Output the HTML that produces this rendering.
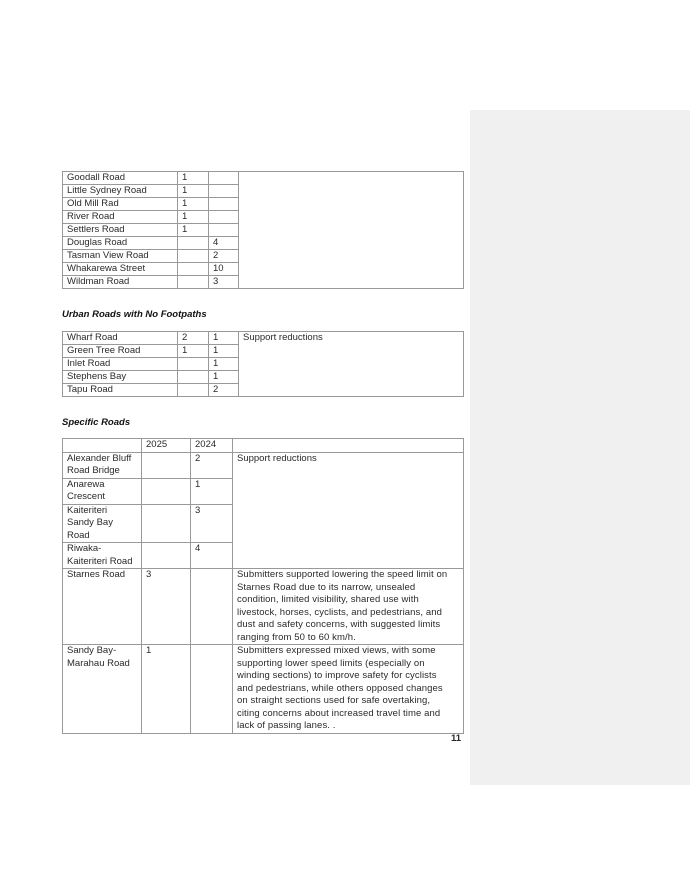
<!DOCTYPE html>
<html><head><style>
body{margin:0;width:690px;height:894px;background:#fff;position:relative;font-family:"Liberation Sans",sans-serif;color:#2a2a2a;overflow:hidden}
.panel{position:absolute;left:470px;top:110px;width:220px;height:675px;background:#f0f0f0}
table{position:absolute;border-collapse:collapse;font-size:9.5px;table-layout:fixed}
td{border:1px solid #999;padding:0 4px;vertical-align:top;line-height:12.5px;white-space:nowrap;overflow:hidden}
.t1 tr{height:12px}
.t1 td{line-height:12px;padding-top:0}
.h{position:absolute;font-size:9.5px;font-weight:bold;font-style:italic;color:#111}
.w{letter-spacing:0.1px}
</style></head><body>
<div class="panel"></div>
<table class="t1" style="left:62px;top:171px;width:402px">
<colgroup><col style="width:115px"><col style="width:31px"><col style="width:30px"><col></colgroup>
<tr><td>Goodall Road</td><td>1</td><td></td><td rowspan="9"></td></tr>
<tr><td>Little Sydney Road</td><td>1</td><td></td></tr>
<tr><td>Old Mill Rad</td><td>1</td><td></td></tr>
<tr><td>River Road</td><td>1</td><td></td></tr>
<tr><td>Settlers Road</td><td>1</td><td></td></tr>
<tr><td>Douglas Road</td><td></td><td>4</td></tr>
<tr><td>Tasman View Road</td><td></td><td>2</td></tr>
<tr><td>Whakarewa Street</td><td></td><td>10</td></tr>
<tr><td>Wildman Road</td><td></td><td>3</td></tr>
</table>
<div class="h" style="left:62px;top:309px">Urban Roads with No Footpaths</div>
<table class="t1" style="left:62px;top:331px;width:402px">
<colgroup><col style="width:115px"><col style="width:31px"><col style="width:30px"><col></colgroup>
<tr><td>Wharf Road</td><td>2</td><td>1</td><td rowspan="5">Support reductions</td></tr>
<tr><td>Green Tree Road</td><td>1</td><td>1</td></tr>
<tr><td>Inlet Road</td><td></td><td>1</td></tr>
<tr><td>Stephens Bay</td><td></td><td>1</td></tr>
<tr><td>Tapu Road</td><td></td><td>2</td></tr>
</table>
<div class="h" style="left:62px;top:417px">Specific Roads</div>
<table style="left:62px;top:438px;width:402px">
<colgroup><col style="width:79px"><col style="width:49px"><col style="width:42px"><col></colgroup>
<tr style="height:12px"><td></td><td>2025</td><td>2024</td><td></td></tr>
<tr style="height:23px"><td>Alexander Bluff<br>Road Bridge</td><td></td><td>2</td><td rowspan="4">Support reductions</td></tr>
<tr style="height:25px"><td>Anarewa<br>Crescent</td><td></td><td>1</td></tr>
<tr style="height:37px"><td>Kaiteriteri<br>Sandy Bay<br>Road</td><td></td><td>3</td></tr>
<tr style="height:26px"><td>Riwaka-<br>Kaiteriteri Road</td><td></td><td>4</td></tr>
<tr style="height:74px"><td>Starnes Road</td><td>3</td><td></td><td class="w">Submitters supported lowering the speed limit on<br>Starnes Road due to its narrow, unsealed<br>condition, limited visibility, shared use with<br>livestock, horses, cyclists, and pedestrians, and<br>dust and safety concerns, with suggested limits<br>ranging from 50 to 60 km/h.</td></tr>
<tr style="height:88px"><td>Sandy Bay-<br>Marahau Road</td><td>1</td><td></td><td class="w">Submitters expressed mixed views, with some<br>supporting lower speed limits (especially on<br>winding sections) to improve safety for cyclists<br>and pedestrians, while others opposed changes<br>on straight sections used for safe overtaking,<br>citing concerns about increased travel time and<br>lack of passing lanes. .</td></tr>
</table>
<div style="position:absolute;left:451px;top:733px;font-size:9.5px;font-weight:bold">11</div>
</body></html>
